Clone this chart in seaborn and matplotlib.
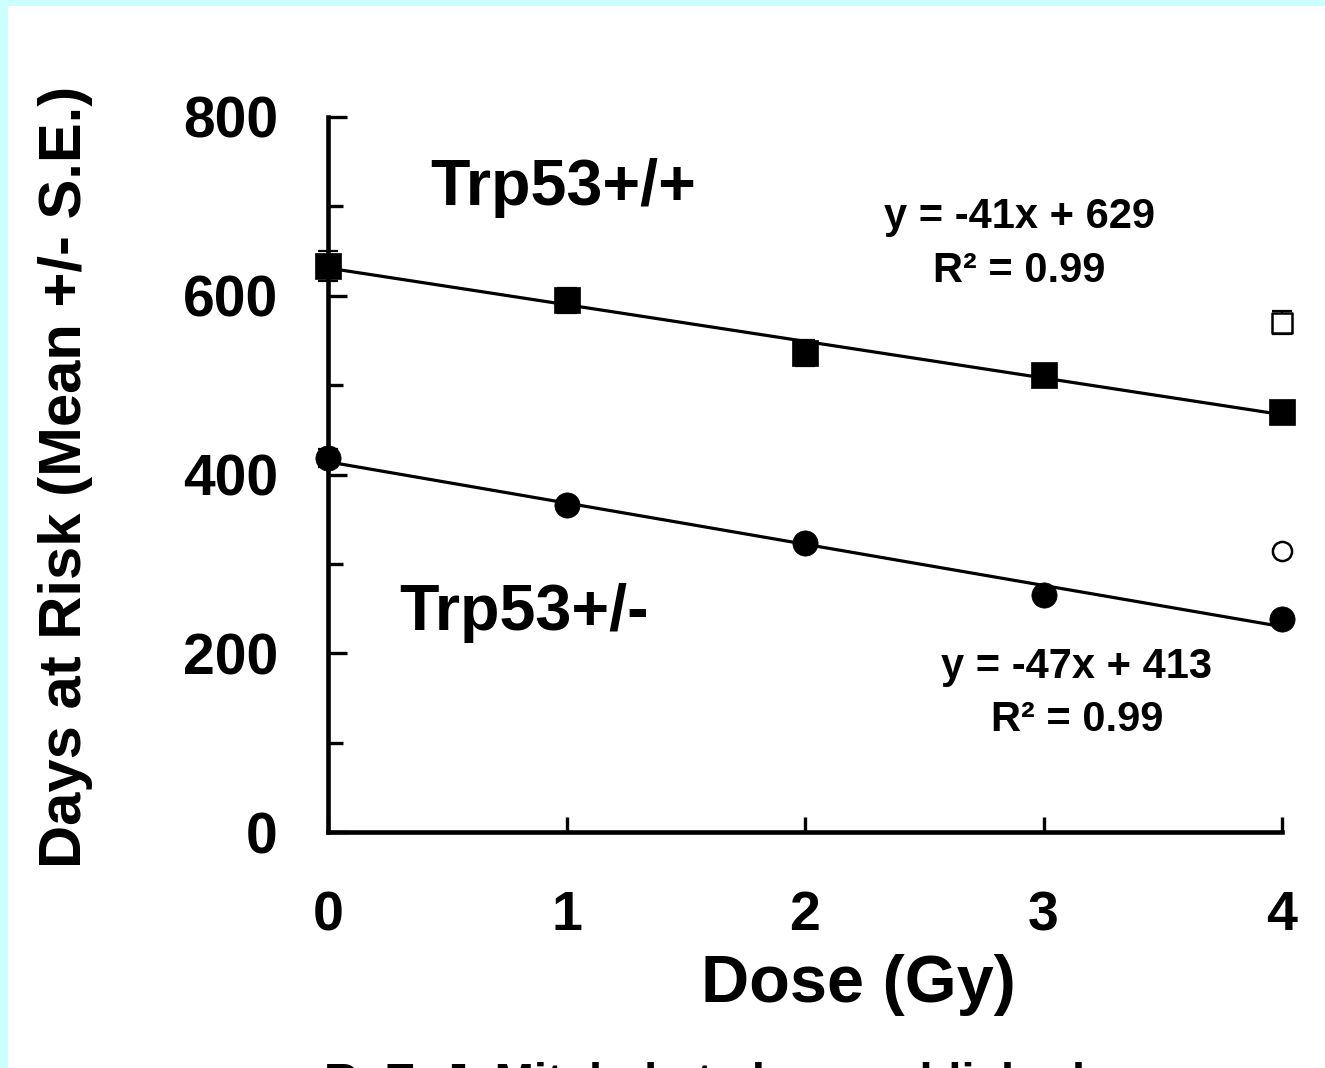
import numpy as np
import pandas as pd
import matplotlib
matplotlib.use("Agg")
import matplotlib.pyplot as plt
from matplotlib.patches import Rectangle
from matplotlib.ticker import MultipleLocator
import seaborn as sns

# ---- data ----
dose = [0, 1, 2, 3, 4]
wt_mean = [633, 595, 536, 511, 470]      # Trp53+/+ (filled squares)
wt_se = [17, 14, 15, 8, 8]
het_mean = [418, 366, 323, 265, 238]     # Trp53+/- (filled circles)
het_se = [10, 5, 5, 5, 5]
open_dose = [4]
wt_open_mean = [570]                     # open square
wt_open_se = [13]
het_open_mean = [314]                    # open circle
het_open_se = [3]

wt_label = "Trp53+/+"
het_label = "Trp53+/-"
wt_eq = "y = -41x + 629"
het_eq = "y = -47x + 413"
r2_text = "R² = 0.99"
x_label = "Dose (Gy)"
y_label = "Days at Risk (Mean +/- S.E.)"
credit = "R. E. J. Mitchel et al., unpublished"
x_ticks = [0, 1, 2, 3, 4]
y_ticks = [0, 200, 400, 600, 800]

wt = pd.DataFrame({"dose": dose, "days": wt_mean})
het = pd.DataFrame({"dose": dose, "days": het_mean})

sns.set_style("white")
plt.rcParams["font.family"] = ["Liberation Sans", "DejaVu Sans"]
plt.rcParams["font.weight"] = "bold"
plt.rcParams["text.color"] = "black"
plt.rcParams["axes.labelcolor"] = "black"
plt.rcParams["xtick.color"] = "black"
plt.rcParams["ytick.color"] = "black"

W, H = 1325, 1068
fig = plt.figure(figsize=(W / 100, H / 100), dpi=100, facecolor="#CCFFFF")
fig.patches.append(Rectangle((8 / W, 0), 1, 1 - 6 / H, transform=fig.transFigure,
                             facecolor="white", edgecolor="none", zorder=-5))

ax = fig.add_axes([328 / W, 1 - 832 / H, (1282 - 328) / W, (832 - 117) / H])
ax.set_facecolor("none")
ax.set_zorder(2)

# regression lines
for df in (wt, het):
    sns.regplot(data=df, x="dose", y="days", ax=ax, scatter=False, ci=None,
                truncate=True, line_kws=dict(color="black", lw=2.3, zorder=3))

# error bars
eb = dict(fmt="none", ecolor="black", elinewidth=1.6, capsize=7, capthick=1.6,
          zorder=4, clip_on=False)
for x, m, s in ((dose, wt_mean, wt_se), (dose, het_mean, het_se),
                (open_dose, wt_open_mean, wt_open_se), (open_dose, het_open_mean, het_open_se)):
    c = ax.errorbar(x, m, yerr=s, **eb)
    for art in list(c.lines[1]) + list(c.lines[2]):
        art.set_clip_on(False)

# markers
sns.scatterplot(data=wt, x="dose", y="days", ax=ax, marker="s", s=330,
                color="black", edgecolor="black", linewidth=0.5, zorder=5, clip_on=False)
sns.scatterplot(data=het, x="dose", y="days", ax=ax, marker="o", s=330,
                color="black", edgecolor="black", linewidth=0.5, zorder=5, clip_on=False)
sns.scatterplot(x=open_dose, y=wt_open_mean, ax=ax, marker="s", s=220,
                facecolor="white", edgecolor="black", linewidth=1.8, zorder=5, clip_on=False)
sns.scatterplot(x=open_dose, y=het_open_mean, ax=ax, marker="o", s=190,
                facecolor="white", edgecolor="black", linewidth=1.8, zorder=5, clip_on=False)

ax.set_xlim(0, 4)
ax.set_ylim(0, 800)
ax.set_xticks(x_ticks)
ax.set_yticks(y_ticks)
ax.yaxis.set_minor_locator(MultipleLocator(100))
ax.set_xlabel("")
ax.set_ylabel("")
for side in ("top", "right"):
    ax.spines[side].set_visible(False)
for side in ("left", "bottom"):
    ax.spines[side].set_linewidth(3.3)
    ax.spines[side].set_color("black")
ax.tick_params(axis="y", which="major", direction="in", length=14, width=2.4,
               labelsize=41, pad=36, colors="black", left=True)
ax.tick_params(axis="y", which="minor", direction="in", length=11, width=2.4, left=True,
               colors="black")
ax.tick_params(axis="x", which="major", direction="in", length=11, width=2.4,
               labelsize=40, pad=42, colors="black", bottom=True)
for lab in ax.get_xticklabels() + ax.get_yticklabels():
    lab.set_fontweight("bold")

# annotations
ax.text(0.43, 720, wt_label, fontsize=46.5, fontweight="bold", ha="left", va="center")
ax.text(0.30, 245, het_label, fontsize=46.5, fontweight="bold", ha="left", va="center")
ax.text(2.90, 688, wt_eq, fontsize=30, fontweight="bold", ha="center", va="center")
ax.text(2.90, 628, r2_text, fontsize=30, fontweight="bold", ha="center", va="center")
ax.text(3.14, 185, het_eq, fontsize=30, fontweight="bold", ha="center", va="center")
ax.text(3.14, 125, r2_text, fontsize=30, fontweight="bold", ha="center", va="center")

fig.text(858 / W, 1 - 985 / H, x_label, fontsize=48, fontweight="bold",
         ha="center", va="center")
fig.text(66 / W, 1 - 477 / H, y_label, fontsize=43, fontweight="bold",
         ha="center", va="center", rotation=90)
fig.text(705 / W, 1 - 1062 / H, credit, fontsize=34, fontweight="bold",
         ha="center", va="top")

fig.savefig("out.png", dpi=100, facecolor=fig.get_facecolor())
